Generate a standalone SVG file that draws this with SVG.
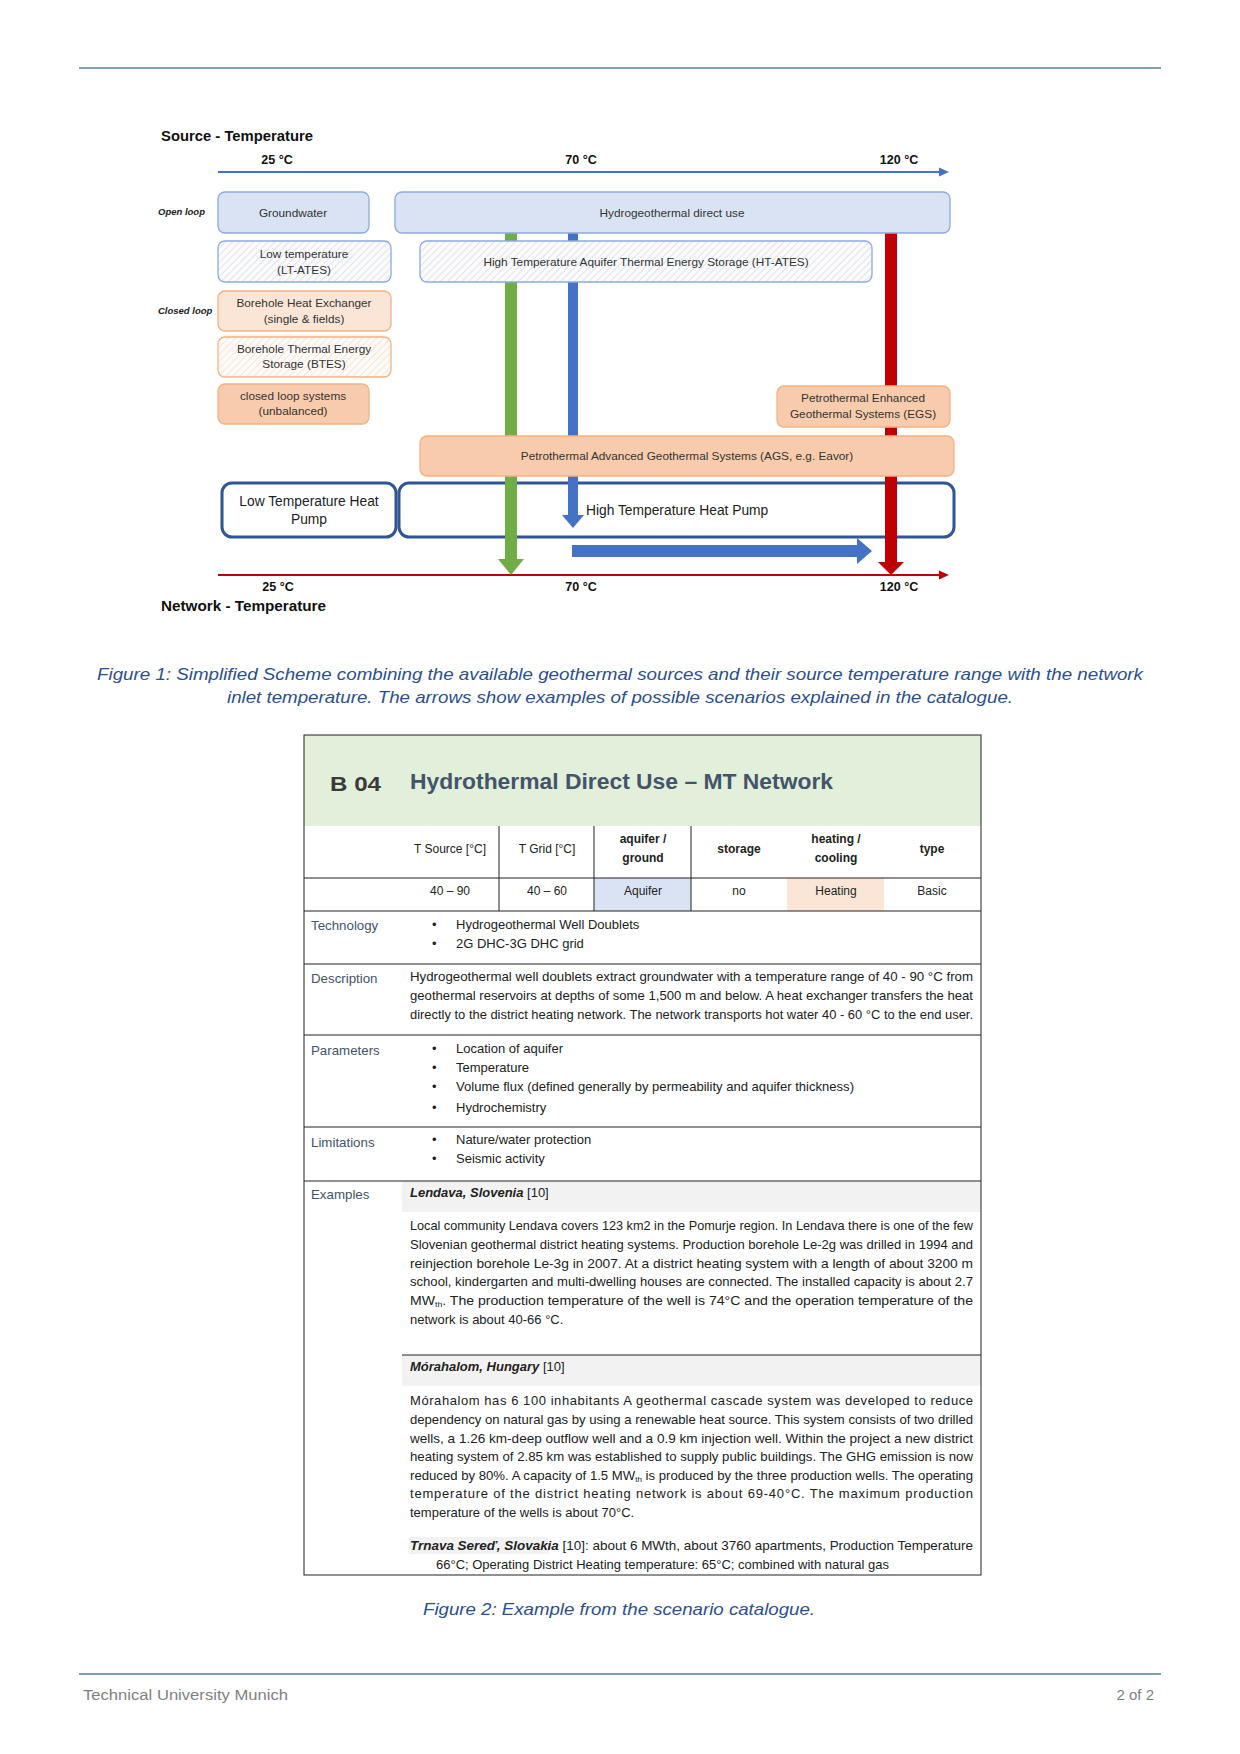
<svg xmlns="http://www.w3.org/2000/svg" width="1240" height="1754" viewBox="0 0 1240 1754">
<style>
text{font-family:"Liberation Sans",Arial,sans-serif}
.bx{font-size:11.8px;fill:#333;text-anchor:middle}
.hp{font-size:13.8px;fill:#222}
.tmp{font-size:12.5px;font-weight:bold;fill:#111;text-anchor:middle}
.ax{font-size:14px;font-weight:bold;fill:#111}
.lp{font-size:9.5px;font-style:italic;font-weight:bold;fill:#222}
.blue{fill:#dae3f3;stroke:#8eaadb;stroke-width:1.3}
.hb{fill:url(#hatchB);stroke:#8eaadb;stroke-width:1.3}
.or1{fill:#fbe5d6;stroke:#f4b183;stroke-width:1.3}
.or2{fill:#f8cbad;stroke:#f4b183;stroke-width:1.3}
.ho{fill:url(#hatchO);stroke:#f4b183;stroke-width:1.3}
.hpb{fill:none;stroke:#2f5597;stroke-width:3}
.cap{font-size:17px;font-style:italic;fill:#2b4f8f;text-anchor:middle}
.b{font-size:13px;fill:#222}
.lb{font-size:13.3px;fill:#44546a}
.ch{font-size:12px;fill:#222;text-anchor:middle}
.chb{font-size:12px;fill:#222;text-anchor:middle;font-weight:bold}
.tl{stroke:#222;stroke-width:1;fill:none}
</style>
<defs>
<pattern id="hatchB" width="5" height="5" patternUnits="userSpaceOnUse" patternTransform="rotate(45)"><rect width="5" height="5" fill="#fbfbfd"/><line x1="0" y1="0" x2="0" y2="5" stroke="#cfd3da" stroke-width="1.2"/></pattern>
<pattern id="hatchO" width="5" height="5" patternUnits="userSpaceOnUse" patternTransform="rotate(45)"><rect width="5" height="5" fill="#fefaf7"/><line x1="0" y1="0" x2="0" y2="5" stroke="#f3d6c3" stroke-width="1.2"/></pattern>
</defs>
<rect width="1240" height="1754" fill="#fff"/>
<line x1="79" y1="68" x2="1161" y2="68" stroke="#5e7d92" stroke-width="1.5"/>

<text class="ax" x="161" y="141" textLength="152" lengthAdjust="spacingAndGlyphs">Source - Temperature</text>
<text class="tmp" x="277" y="164">25 °C</text>
<text class="tmp" x="581" y="164">70 °C</text>
<text class="tmp" x="899" y="164">120 °C</text>
<text class="tmp" x="278" y="591">25 °C</text>
<text class="tmp" x="581" y="591">70 °C</text>
<text class="tmp" x="899" y="591">120 °C</text>
<text class="ax" x="161" y="611" textLength="165" lengthAdjust="spacingAndGlyphs">Network - Temperature</text>
<text class="lp" x="158" y="215">Open loop</text>
<text class="lp" x="158" y="314">Closed loop</text>

<g id="lt-heat-pump"><rect class="hpb" x="222" y="483" width="174" height="54" rx="10"/><text class="hp" x="309" y="506" text-anchor="middle">Low Temperature  Heat</text><text class="hp" x="309" y="524" text-anchor="middle">Pump</text></g>
<g id="ht-heat-pump"><rect class="hpb" x="399" y="483" width="555" height="54" rx="10"/><text class="hp" x="586" y="515">High Temperature Heat Pump</text></g>

<g id="connectors">
<line x1="218" y1="172" x2="941" y2="172" stroke="#4472c4" stroke-width="2"/>
<polygon points="939,167.5 949,172 939,176.5" fill="#4472c4"/>
<line x1="218" y1="575" x2="941" y2="575" stroke="#c00000" stroke-width="2"/>
<polygon points="939,570.5 949,575 939,579.5" fill="#c00000"/>
<rect x="505" y="233" width="12" height="327" fill="#70ad47"/>
<polygon points="498,559 524,559 511,575" fill="#70ad47"/>
<rect x="568" y="233" width="10" height="283" fill="#4472c4"/>
<polygon points="562,515 584,515 573,528" fill="#4472c4"/>
<rect x="885" y="233" width="12" height="330" fill="#c00000"/>
<polygon points="878,562 904,562 891,575" fill="#c00000"/>
<rect x="572" y="545" width="286" height="12" fill="#4472c4"/>
<polygon points="857,538 872,551 857,564" fill="#4472c4"/>
</g>

<g id="groundwater"><rect class="blue" x="218" y="192" width="151" height="41" rx="7"/><text class="bx" x="293" y="217">Groundwater</text></g>
<g id="hydro-direct"><rect class="blue" x="395" y="192" width="555" height="41" rx="7"/><text class="bx" x="672" y="217">Hydrogeothermal direct use</text></g>
<g id="lt-ates"><rect class="hb" x="218" y="241" width="173" height="41" rx="7"/><text class="bx" x="304" y="258">Low temperature</text><text class="bx" x="304" y="274">(LT-ATES)</text></g>
<g id="ht-ates"><rect class="hb" x="420" y="241" width="452" height="41" rx="7"/><text class="bx" x="646" y="266">High Temperature Aquifer Thermal Energy Storage (HT-ATES)</text></g>
<g id="bhe"><rect class="or1" x="218" y="291" width="173" height="40" rx="7"/><text class="bx" x="304" y="307">Borehole Heat Exchanger</text><text class="bx" x="304" y="323">(single &amp; fields)</text></g>
<g id="btes"><rect class="ho" x="218" y="337" width="173" height="40" rx="7"/><text class="bx" x="304" y="353">Borehole Thermal Energy</text><text class="bx" x="304" y="368">Storage (BTES)</text></g>
<g id="closed-loop"><rect class="or2" x="218" y="384" width="151" height="40" rx="7"/><text class="bx" x="293" y="400">closed loop systems</text><text class="bx" x="293" y="415">(unbalanced)</text></g>
<g id="egs"><rect class="or2" x="777" y="386" width="173" height="41" rx="7"/><text class="bx" x="863" y="402">Petrothermal Enhanced</text><text class="bx" x="863" y="418">Geothermal Systems (EGS)</text></g>
<g id="ags"><rect class="or2" x="420" y="436" width="534" height="40" rx="7"/><text class="bx" x="687" y="460">Petrothermal Advanced Geothermal Systems (AGS, e.g. Eavor)</text></g>

<text class="cap" x="620" y="680" textLength="1046" lengthAdjust="spacingAndGlyphs">Figure 1: Simplified Scheme combining the available geothermal sources and their source temperature range with the network</text>
<text class="cap" x="620" y="703" textLength="786" lengthAdjust="spacingAndGlyphs">inlet temperature. The arrows show examples of possible scenarios explained in the catalogue.</text>

<g id="catalogue-table">
<rect x="304" y="735" width="677" height="91" fill="#e2efda"/>
<rect x="594" y="878" width="97" height="33" fill="#dae3f3"/>
<rect x="787" y="878" width="97" height="33" fill="#fbe5d6"/>
<rect x="402" y="1181" width="579" height="31" fill="#f2f2f2"/>
<rect x="402" y="1355" width="579" height="31" fill="#f2f2f2"/>
<rect x="409" y="1537" width="140" height="17" fill="#f2f2f2"/>
<rect class="tl" x="304" y="735" width="677" height="840"/>
<path class="tl" d="M499 826V911M594 826V911M691 826V911M304 878H981M304 911H981M304 964H981M304 1035H981M304 1127H981M304 1181H981M402 1355H981"/>
<text x="330" y="791" font-size="21" font-weight="bold" fill="#3a3a3a" textLength="51" lengthAdjust="spacingAndGlyphs">B 04</text>
<text x="410" y="789" font-size="22" font-weight="bold" fill="#44546a" textLength="423" lengthAdjust="spacingAndGlyphs">Hydrothermal Direct Use – MT Network</text>
<text class="ch" x="450" y="853">T Source [°C]</text>
<text class="ch" x="547" y="853">T Grid [°C]</text>
<text class="chb" x="643" y="843">aquifer /</text><text class="chb" x="643" y="862">ground</text>
<text class="chb" x="739" y="853">storage</text>
<text class="chb" x="836" y="843">heating /</text><text class="chb" x="836" y="862">cooling</text>
<text class="chb" x="932" y="853">type</text>
<text class="ch" x="450" y="895">40 – 90</text>
<text class="ch" x="547" y="895">40 – 60</text>
<text class="ch" x="643" y="895">Aquifer</text>
<text class="ch" x="739" y="895">no</text>
<text class="ch" x="836" y="895">Heating</text>
<text class="ch" x="932" y="895">Basic</text>

<text class="lb" x="311" y="930">Technology</text>
<text class="b" x="432" y="929">•</text><text class="b" x="456" y="929">Hydrogeothermal Well Doublets</text>
<text class="b" x="432" y="948">•</text><text class="b" x="456" y="948">2G DHC-3G DHC grid</text>

<text class="lb" x="311" y="983">Description</text>
<text class="b" x="410" y="981" textLength="563" lengthAdjust="spacingAndGlyphs">Hydrogeothermal well doublets extract groundwater with a temperature range of 40 - 90 °C from</text>
<text class="b" x="410" y="1000" textLength="563" lengthAdjust="spacingAndGlyphs">geothermal reservoirs at depths of some 1,500 m and below. A heat exchanger transfers the heat</text>
<text class="b" x="410" y="1019" textLength="563" lengthAdjust="spacingAndGlyphs">directly to the district heating network. The network transports hot water 40 - 60 °C to the end user.</text>

<text class="lb" x="311" y="1055">Parameters</text>
<text class="b" x="432" y="1053">•</text><text class="b" x="456" y="1053">Location of aquifer</text>
<text class="b" x="432" y="1072">•</text><text class="b" x="456" y="1072">Temperature</text>
<text class="b" x="432" y="1091">•</text><text class="b" x="456" y="1091" textLength="398" lengthAdjust="spacingAndGlyphs">Volume flux (defined generally by permeability and aquifer thickness)</text>
<text class="b" x="432" y="1112">•</text><text class="b" x="456" y="1112">Hydrochemistry</text>

<text class="lb" x="311" y="1147">Limitations</text>
<text class="b" x="432" y="1144">•</text><text class="b" x="456" y="1144">Nature/water protection</text>
<text class="b" x="432" y="1163">•</text><text class="b" x="456" y="1163">Seismic activity</text>

<text class="lb" x="311" y="1199">Examples</text>
<text class="b" x="410" y="1197"><tspan font-weight="bold" font-style="italic">Lendava, Slovenia</tspan> [10]</text>
<text class="b" x="410" y="1230" textLength="563" lengthAdjust="spacingAndGlyphs">Local community Lendava covers 123 km2 in the Pomurje region. In Lendava there is one of the few</text>
<text class="b" x="410" y="1249" textLength="563" lengthAdjust="spacingAndGlyphs">Slovenian geothermal district heating systems. Production borehole Le-2g was drilled in 1994 and</text>
<text class="b" x="410" y="1268" textLength="563" lengthAdjust="spacingAndGlyphs">reinjection borehole Le-3g in 2007. At a district heating system with a length of about 3200 m</text>
<text class="b" x="410" y="1286" textLength="563" lengthAdjust="spacingAndGlyphs">school, kindergarten and multi-dwelling houses are connected. The installed capacity is about 2.7</text>
<text class="b" x="410" y="1305" textLength="563" lengthAdjust="spacingAndGlyphs">MW<tspan font-size="8" dy="2">th</tspan><tspan dy="-2">. The production temperature of the well is 74°C and the operation temperature of the</tspan></text>
<text class="b" x="410" y="1324">network is about 40-66 °C.</text>

<text class="b" x="410" y="1371"><tspan font-weight="bold" font-style="italic">Mórahalom, Hungary</tspan> [10]</text>
<text class="b" x="410" y="1405" textLength="563" lengthAdjust="spacing">Mórahalom has 6 100 inhabitants A geothermal cascade system was developed to reduce</text>
<text class="b" x="410" y="1424" textLength="563" lengthAdjust="spacingAndGlyphs">dependency on natural gas by using a renewable heat source. This system consists of two drilled</text>
<text class="b" x="410" y="1443" textLength="563" lengthAdjust="spacingAndGlyphs">wells, a 1.26 km-deep outflow well and a 0.9 km injection well. Within the project a new district</text>
<text class="b" x="410" y="1461" textLength="563" lengthAdjust="spacingAndGlyphs">heating system of 2.85 km was established to supply public buildings. The GHG emission is now</text>
<text class="b" x="410" y="1480" textLength="563" lengthAdjust="spacingAndGlyphs">reduced by 80%. A capacity of 1.5 MW<tspan font-size="8" dy="2">th</tspan><tspan dy="-2"> is produced by the three production wells. The operating</tspan></text>
<text class="b" x="410" y="1498" textLength="563" lengthAdjust="spacing">temperature of the district heating network is about 69-40°C. The maximum production</text>
<text class="b" x="410" y="1517">temperature of the wells is about 70°C.</text>
<text class="b" x="410" y="1550" textLength="563" lengthAdjust="spacingAndGlyphs"><tspan font-weight="bold" font-style="italic">Trnava Sereď, Slovakia</tspan> [10]: about 6 MWth, about 3760 apartments, Production Temperature</text>
<text class="b" x="436" y="1569" textLength="453" lengthAdjust="spacingAndGlyphs">66°C; Operating District Heating temperature: 65°C; combined with natural gas</text>
</g>

<text class="cap" x="619" y="1615" textLength="392" lengthAdjust="spacingAndGlyphs">Figure 2: Example from the scenario catalogue.</text>

<line x1="79" y1="1674" x2="1161" y2="1674" stroke="#5e7d92" stroke-width="1.5"/>
<text x="83" y="1700" font-size="15" fill="#7f7f7f" textLength="205" lengthAdjust="spacingAndGlyphs">Technical University Munich</text>
<text x="1154" y="1700" font-size="15" fill="#7f7f7f" text-anchor="end">2 of 2</text>
</svg>
